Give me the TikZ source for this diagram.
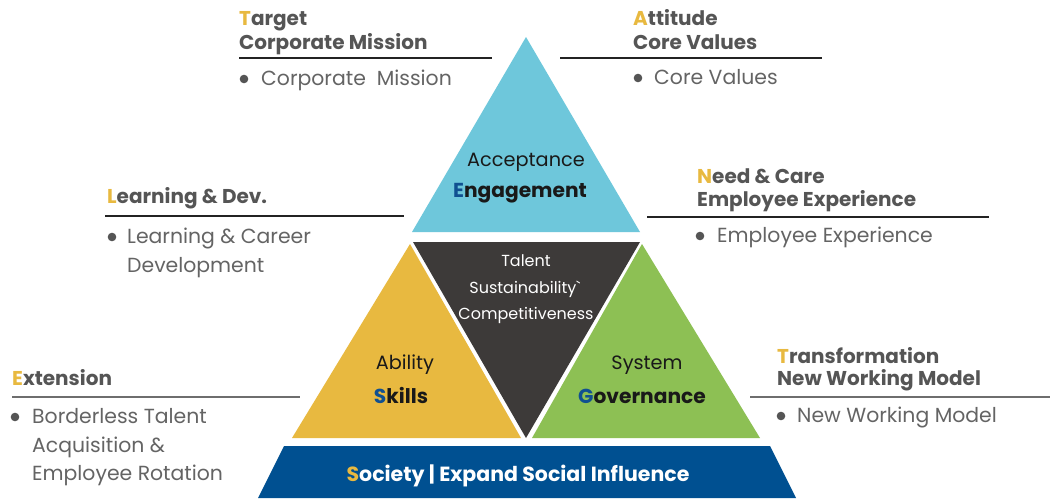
\documentclass[tikz,border=0pt]{standalone}
\usepackage{fontspec}
\setmainfont{Poppins}
\usetikzlibrary{positioning}
\definecolor{topfill}{RGB}{110,199,219}
\definecolor{midfill}{RGB}{61,58,57}
\definecolor{leftfill}{RGB}{232,185,64}
\definecolor{rightfill}{RGB}{141,192,84}
\definecolor{basefill}{RGB}{0,80,145}
\definecolor{initcol}{RGB}{232,185,64}
\definecolor{keycol}{RGB}{16,80,145}
\definecolor{headcol}{RGB}{85,85,85}
\definecolor{itemcol}{RGB}{100,100,100}
\definecolor{dotcol}{RGB}{85,85,85}
\definecolor{rulecol}{RGB}{35,35,35}
\definecolor{rulegray}{RGB}{110,110,110}
\definecolor{labelcol}{RGB}{25,25,25}
\newcommand{\ini}[1]{\textcolor{initcol}{#1}}
\newcommand{\key}[1]{\textcolor{keycol}{#1}}

\begin{document}
\begin{tikzpicture}[x=1pt, y=-1pt,
  head/.style={anchor=base west, inner sep=0pt, text=headcol, font=\fontsize{20}{20}\selectfont\bfseries},
  item/.style={anchor=base west, inner sep=0pt, text=itemcol, font=\fontsize{20.4}{20}\selectfont},
  rule/.style={line width=1.3pt},
  tlabel/.style={anchor=base, inner sep=0pt, text=labelcol, font=\fontsize{19.3}{19}\selectfont},
  tkey/.style={tlabel, font=\fontsize{20.2}{20}\selectfont\bfseries},
  tsmall/.style={tlabel, text=white, font=\fontsize{16}{16}\selectfont},
  dot/.style={fill=dotcol},
]
\useasboundingbox (0,0) rectangle (1052,498);
\fill[white] (0,0) rectangle (1052,498);

% ---- Pyramid ----
\fill[topfill]   (526,37)  -- (640,232) -- (412,232) -- cycle;
\fill[midfill]   (413,242) -- (640,242) -- (526,438) -- cycle;
\fill[leftfill]  (410,244) -- (521,438) -- (292,438) -- cycle;
\fill[rightfill] (642,244) -- (760,438) -- (532,438) -- cycle;
\fill[basefill]  (284,446) -- (770,446) -- (796,498) -- (258,498) -- cycle;

% ---- Pyramid labels ----
\node[tlabel] (accept) at (526,166) {Acceptance};
\node[tkey] (engage) at (520,197) {\key{E}ngagement};
\node[tsmall] (talent) at (526,266) {Talent};
\node[tsmall] (sustain) at (525,293) {Sustainability\textasciigrave};
\node[tsmall] (compet) at (526,319) {Competitiveness};
\node[tlabel] (ability) at (405,369) {Ability};
\node[tkey] (skills) at (401,403) {\key{S}kills};
\node[tlabel] (system) at (647,369) {System};
\node[tkey] (govern) at (642,403) {\key{G}overnance};
\node[tkey, text=white, font=\fontsize{20.5}{20}\selectfont\bfseries] (society) at (518,481) {\ini{S}ociety | Expand Social Influence};

% ---- Target ----
\node[head] (tgt1) at (239,25) {\ini{T}arget};
\node[head] (tgt2) at (239,49) {Corporate Mission};
\draw[rule, rulecol] (239,58) -- (492,58);
\fill[dot] (244,79) circle (4.3);
\node[item] (tgt3) at (261,85) {Corporate\ \ Mission};

% ---- Attitude ----
\node[head] (att1) at (633,25) {\ini{A}ttitude};
\node[head] (att2) at (633,49) {Core Values};
\draw[rule, rulecol] (560,58) -- (822,58);
\fill[dot] (638,78) circle (4.3);
\node[item] (att3) at (654,84) {Core Values};

% ---- Learning & Dev. ----
\node[head] (ld1) at (107,203) {\ini{L}earning \& Dev.};
\draw[rule, rulecol] (105,216) -- (404,216);
\fill[dot] (112,237) circle (4.3);
\node[item] (ld2) at (127,243) {Learning \& Career};
\node[item] (ld3) at (127,272) {Development};

% ---- Need & Care ----
\node[head] (nc1) at (697,183) {\ini{N}eed \& Care};
\node[head] (nc2) at (697,206) {Employee Experience};
\draw[rule, rulecol] (647,217) -- (989,217);
\fill[dot] (700,236) circle (4.3);
\node[item] (nc3) at (717,242) {Employee Experience};

% ---- Extension ----
\node[head] (ext1) at (12,385) {\ini{E}xtension};
\draw[rule, rulegray] (12,397) -- (300,397);
\fill[dot] (15,417) circle (4.3);
\node[item] (ext2) at (32,423) {Borderless Talent};
\node[item] (ext3) at (32,452) {Acquisition \&};
\node[item] (ext4) at (32,480) {Employee Rotation};

% ---- Transformation ----
\node[head] (tr1) at (777,363) {\ini{T}ransformation};
\node[head] (tr2) at (777,385) {New Working Model};
\draw[rule, rulegray] (750,397) -- (1050,397);
\fill[dot] (781,416) circle (4.3);
\node[item] (tr3) at (797,422) {New Working Model};
\end{tikzpicture}
\end{document}
